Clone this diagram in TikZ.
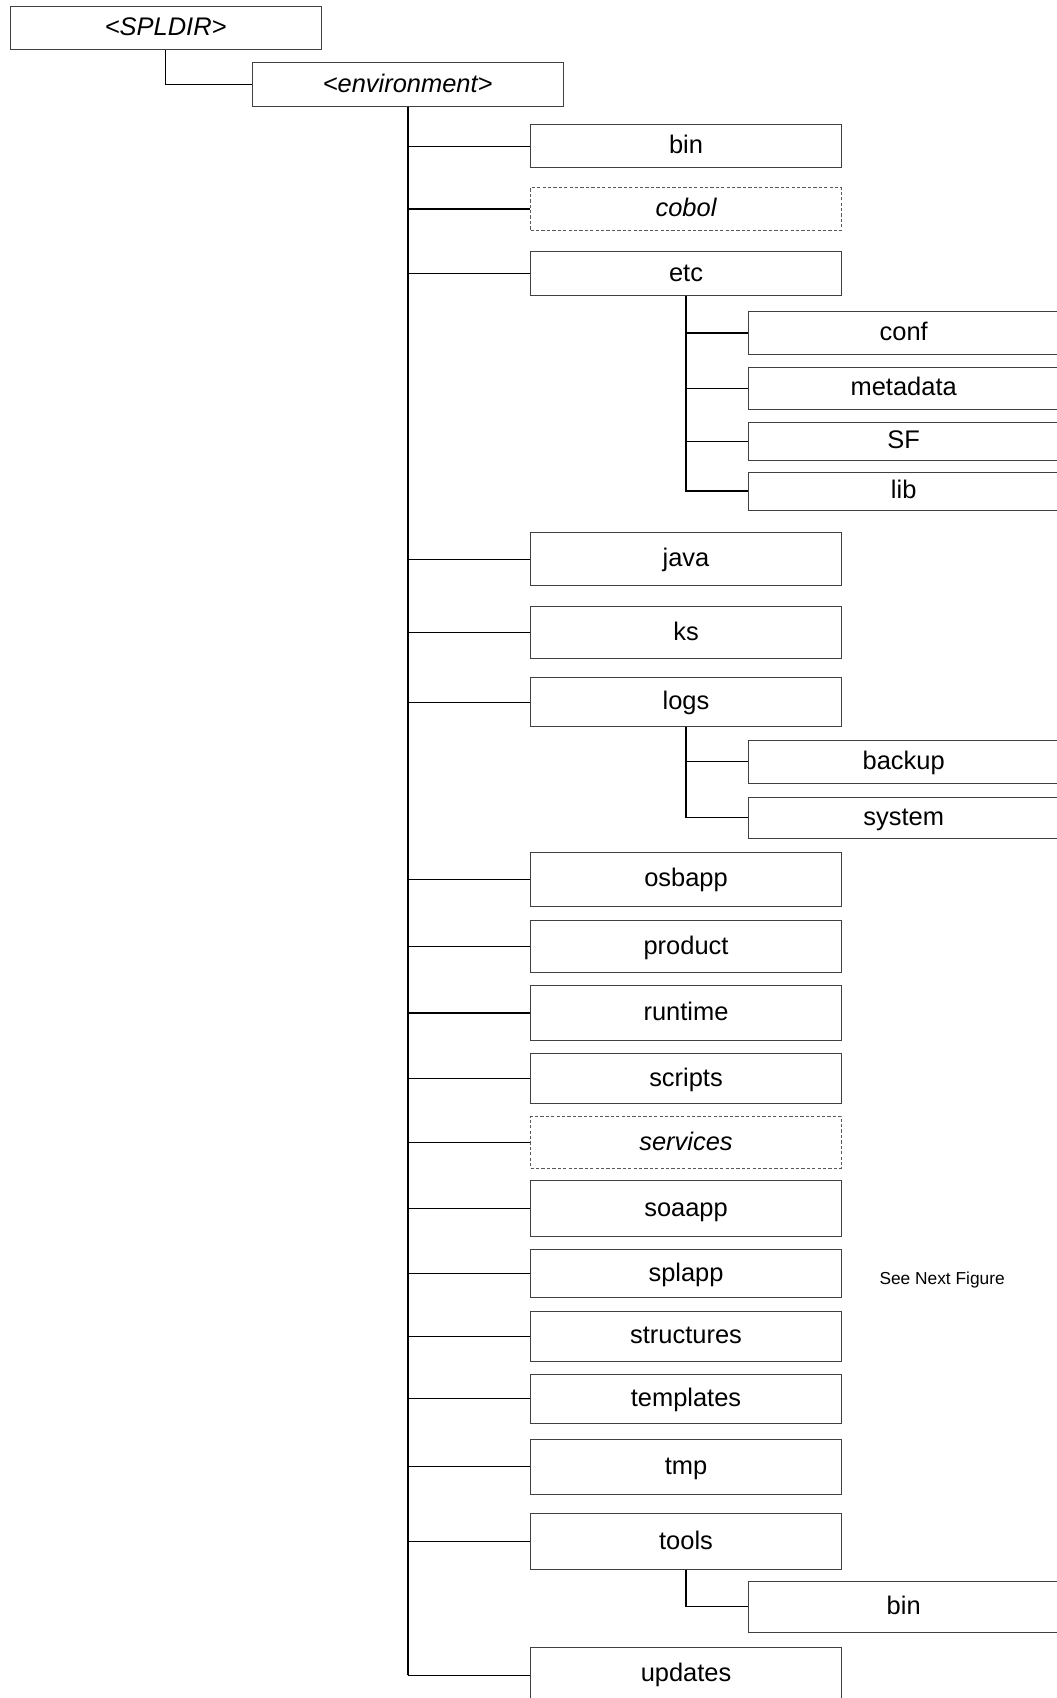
\documentclass[tikz,border=0pt]{standalone}
\usepackage{fontspec}
\setmainfont{Liberation Sans}
\begin{document}
\begin{tikzpicture}[x=1pt,y=-1pt,
  box/.style={draw=black!75,line width=0.8pt,inner sep=0pt,minimum width=287pt,text height=16.5pt,text depth=2.5pt,font=\fontsize{23.5}{28}\selectfont},
  dbox/.style={box,dashed,dash pattern=on 3pt off 2pt,draw=black!65},
  conn/.style={line width=1.2pt,black},
  trunk/.style={line width=1.8pt,black}]
\useasboundingbox (0,0) rectangle (976,1568);
\clip (0,0) rectangle (976,1568);
\fill[white] (0,0) rectangle (976,1568);
% top
\node[box,minimum height=40pt] (spl) at (153,26) {\itshape <SPLDIR>};
\node[box,minimum height=40pt] (env) at (376.5,78) {\itshape <environment>};
% level 1
\node[box,minimum height=40pt] (bin) at (633.5,135) {bin};
\node[dbox,minimum height=40pt] (cobol) at (633.5,193) {\itshape cobol};
\node[box,minimum height=41pt] (etc) at (633.5,252.5) {etc};
\node[box,minimum height=49pt] (java) at (633.5,516.5) {java};
\node[box,minimum height=48pt] (ks) at (633.5,584) {ks};
\node[box,minimum height=45pt] (logs) at (633.5,648.5) {logs};
\node[box,minimum height=50pt] (osbapp) at (633.5,812) {osbapp};
\node[box,minimum height=48pt] (product) at (633.5,874) {product};
\node[box,minimum height=51pt] (runtime) at (633.5,935.5) {runtime};
\node[box,minimum height=46pt] (scripts) at (633.5,996) {scripts};
\node[dbox,minimum height=48pt] (services) at (633.5,1055) {\itshape services};
\node[box,minimum height=52pt] (soaapp) at (633.5,1116) {soaapp};
\node[box,minimum height=44pt] (splapp) at (633.5,1176) {splapp};
\node[box,minimum height=46pt] (structures) at (633.5,1234) {structures};
\node[box,minimum height=45pt] (templates) at (633.5,1291.5) {templates};
\node[box,minimum height=51pt] (tmp) at (633.5,1354.5) {tmp};
\node[box,minimum height=51pt] (tools) at (633.5,1423.5) {tools};
\node[box,minimum height=50pt] (updates) at (633.5,1546) {updates};
% level 2
\node[box,minimum height=39pt] (conf) at (834.5,307.5) {conf};
\node[box,minimum height=39pt] (metadata) at (834.5,358.5) {metadata};
\node[box,minimum height=35pt] (sf) at (834.5,407.5) {SF};
\node[box,minimum height=35pt] (lib) at (834.5,453.5) {lib};
\node[box,minimum height=39pt] (backup) at (834.5,703.5) {backup};
\node[box,minimum height=38pt] (system) at (834.5,755) {system};
\node[box,minimum height=47pt] (bintwo) at (834.5,1483.5) {bin};
% note
\node[font=\fontsize{16}{19}\selectfont] (note) at (870,1182) {See Next Figure};
% connectors
\draw[conn] (spl.south) |- (env.west);
\coordinate (tend) at (376.5,1547);
\draw[trunk] (env.south) -- (tend);
\foreach \n in {bin,cobol,etc,java,ks,logs,osbapp,product,runtime,scripts,services,soaapp,splapp,structures,templates,tmp,tools}
  \draw[conn] (\n.west) -- (\n.west -| env.south);
\draw[conn] (tend) -- (updates.west |- tend);
\draw[trunk,line width=1.4pt] (etc.south) |- (lib.west);
\foreach \n in {conf,metadata,sf}
  \draw[conn] (\n.west) -- (\n.west -| etc.south);
\draw[trunk,line width=1.4pt] (logs.south) |- (system.west);
\draw[conn] (backup.west) -- (backup.west -| logs.south);
\draw[conn] (tools.south) |- (bintwo.west);
\end{tikzpicture}
\end{document}
